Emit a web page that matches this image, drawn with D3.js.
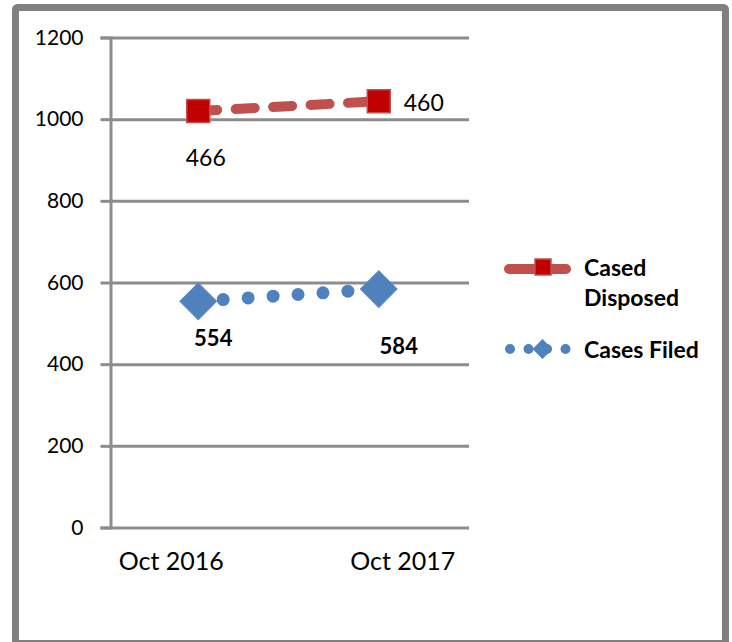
<!DOCTYPE html>
<html>
<head>
<meta charset="utf-8">
<script src="https://cdn.jsdelivr.net/npm/d3@7"></script>
<style>
  html, body { margin: 0; padding: 0; background: #fff; }
  svg { display: block; }
  text { font-family: Lato, "Open Sans", sans-serif; fill: #000; }
</style>
</head>
<body>
<svg id="chart" width="732" height="642"></svg>
<script>
// ---- data ----
const categories = ["Oct 2016", "Oct 2017"];
const casesFiled = [554, 584];
const casedDisposed = [466, 460];
const yTicks = [0, 200, 400, 600, 800, 1000, 1200];
const seriesNames = ["Cases Filed", "Cased Disposed"];

const svg = d3.select("#chart");

// outer frame
svg.append("rect")
  .attr("x", 15.5).attr("y", 7.5).attr("width", 710).attr("height", 636)
  .attr("rx", 2)
  .attr("fill", "#fff").attr("stroke", "#808080").attr("stroke-width", 7);

// scales
const x = d3.scalePoint().domain(categories).range([108, 469]).padding(0.5);
const y = d3.scaleLinear().domain([0, 1200]).range([527.5, 37.5]);

const gridColor = "#8c8c8c";

// y axis with gridlines
const yAxis = d3.axisLeft(y).tickValues(yTicks).tickFormat(d3.format("d")).tickSize(10).tickPadding(17);
const gy = svg.append("g").attr("transform", "translate(110.5,0)").call(yAxis);
gy.select(".domain").attr("stroke", gridColor).attr("stroke-width", 3);
gy.selectAll(".tick line").attr("stroke", gridColor).attr("stroke-width", 3);
gy.selectAll(".tick text").style("font-size", "21px").style("font-family", "Lato, sans-serif").attr("fill", "#000");
gy.selectAll(".tick").append("line")
  .attr("x1", 0).attr("x2", 469 - 110.5)
  .attr("stroke", gridColor).attr("stroke-width", 3);

// x labels
const xLabelOffset = [-27, 24];
svg.append("g").selectAll("text").data(categories).join("text")
  .attr("x", (d, i) => x(d) + xLabelOffset[i])
  .attr("y", 570)
  .attr("text-anchor", "middle")
  .style("font-size", "25px")
  .text(d => d);

// stacked data
const table = categories.map((c, i) => ({ cat: c, filed: casesFiled[i], disposed: casedDisposed[i] }));
const stack = d3.stack().keys(["filed", "disposed"]);
const stacked = stack(table);

const blue = "#4F81BD";
const redLine = "#C0504D";
const redMarker = "#C00000";

const line = d3.line().x(d => x(d.data.cat)).y(d => y(d[1]));

// Cases Filed (dotted)
svg.append("path").datum(stacked[0])
  .attr("d", line)
  .attr("fill", "none").attr("stroke", blue).attr("stroke-width", 13)
  .attr("stroke-linecap", "round").attr("stroke-dasharray", "0 25");

// Cased Disposed (dashed)
svg.append("path").datum(stacked[1])
  .attr("d", line)
  .attr("fill", "none").attr("stroke", redLine).attr("stroke-width", 10)
  .attr("stroke-linecap", "round").attr("stroke-dasharray", "19 18.5");

// diamonds
const diamond = d3.symbol().type(d3.symbolSquare).size(26 * 26);
svg.append("g").selectAll("path").data(stacked[0]).join("path")
  .attr("transform", d => `translate(${x(d.data.cat)},${y(d[1])}) rotate(45)`)
  .attr("d", diamond)
  .attr("fill", blue).attr("stroke", "#5b8cc6").attr("stroke-width", 1);

// squares
const sq = d3.symbol().type(d3.symbolSquare).size(23 * 23);
svg.append("g").selectAll("path").data(stacked[1]).join("path")
  .attr("transform", d => `translate(${x(d.data.cat)},${y(d[1])})`)
  .attr("d", sq)
  .attr("fill", redMarker).attr("stroke", redLine).attr("stroke-width", 1.5);

// data labels
const filedLabelOff = [[15, 45], [20, 65]];
svg.append("g").selectAll("text").data(stacked[0]).join("text")
  .attr("x", (d, i) => x(d.data.cat) + filedLabelOff[i][0])
  .attr("y", (d, i) => y(d[1]) + filedLabelOff[i][1])
  .attr("text-anchor", "middle")
  .style("font-size", "22px").style("font-weight", "bold")
  .text(d => d.data.filed);

const dispLabelOff = [[7.5, 55, "middle"], [25, 10, "start"]];
svg.append("g").selectAll("text").data(stacked[1]).join("text")
  .attr("x", (d, i) => x(d.data.cat) + dispLabelOff[i][0])
  .attr("y", (d, i) => y(d[1]) + dispLabelOff[i][1])
  .attr("text-anchor", (d, i) => dispLabelOff[i][2])
  .style("font-size", "23px")
  .text(d => d.data.disposed);

// legend
const lg = svg.append("g");
// Cased Disposed entry
lg.append("line").attr("x1", 509).attr("x2", 566).attr("y1", 269).attr("y2", 269)
  .attr("stroke", redLine).attr("stroke-width", 10).attr("stroke-linecap", "round");
lg.append("rect").attr("x", 535).attr("y", 259).attr("width", 16).attr("height", 16)
  .attr("fill", redMarker).attr("stroke", redLine).attr("stroke-width", 1.5);
lg.append("text").attr("x", 584).attr("y", 276).style("font-size", "23px").style("font-weight", "bold").text("Cased");
lg.append("text").attr("x", 584).attr("y", 306).style("font-size", "23px").style("font-weight", "bold").text("Disposed");
// Cases Filed entry
lg.append("line").attr("x1", 510).attr("x2", 566).attr("y1", 349).attr("y2", 349)
  .attr("stroke", blue).attr("stroke-width", 10).attr("stroke-linecap", "round")
  .attr("stroke-dasharray", "0 18.5");
lg.append("path").attr("transform", "translate(542.5,349) rotate(45)")
  .attr("d", d3.symbol().type(d3.symbolSquare).size(14 * 14))
  .attr("fill", blue);
lg.append("text").attr("x", 584).attr("y", 358).style("font-size", "23px").style("font-weight", "bold").text(seriesNames[0]);
</script>
</body>
</html>
